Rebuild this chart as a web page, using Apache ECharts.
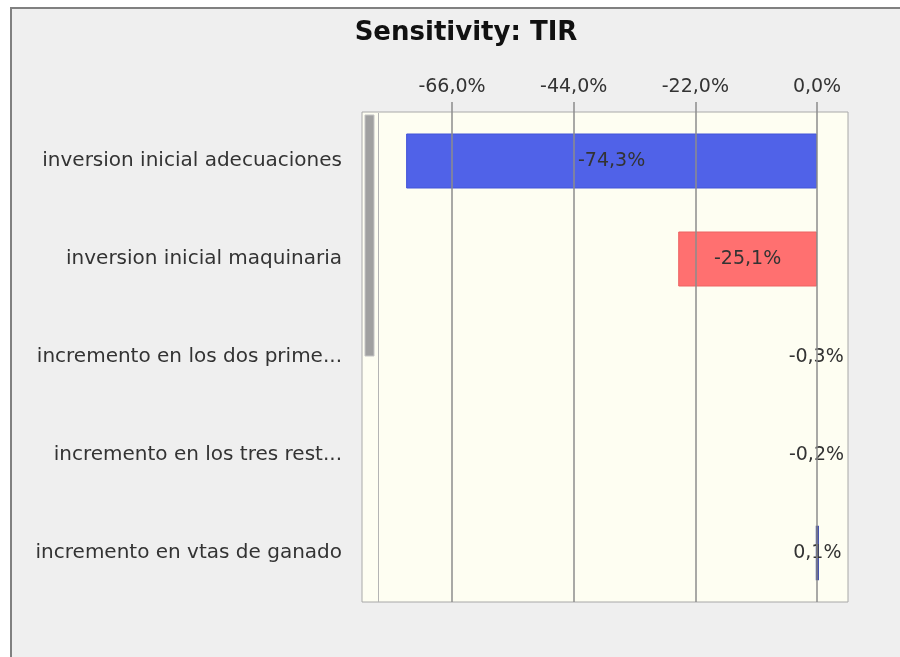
<!DOCTYPE html>
<html>
<head>
<meta charset="utf-8">
<script src="https://cdn.jsdelivr.net/npm/echarts@6/dist/echarts.min.js"></script>
<style>
  html, body { margin:0; padding:0; background:#ffffff; width:900px; height:657px; overflow:hidden; }
  #frame { position:absolute; left:10px; top:7px; width:900px; height:660px; background:#efefef;
           border-left:2px solid #808080; border-top:2px solid #808080; box-sizing:border-box; }
  #chart { position:absolute; left:0; top:0; width:900px; height:657px; }
</style>
</head>
<body>
<div id="frame"></div>
<div id="chart"></div>
<script>
const titleText = 'Sensitivity: TIR';
const categories = [
  'inversion inicial adecuaciones',
  'inversion inicial maquinaria',
  'incremento en los dos prime...',
  'incremento en los tres rest...',
  'incremento en vtas de ganado'
];
const values = [-74.3, -25.1, -0.3, -0.2, 0.1];
const tickValues = [-66, -44, -22, 0];
const itemColors = ['#5062E8', '#FF7070', 'rgba(0,0,0,0)', 'rgba(0,0,0,0)', '#1A2A9C'];
const itemBorders = ['#4354d8', '#ec6262', 'rgba(0,0,0,0)', 'rgba(0,0,0,0)', '#1A2A9C'];
const itemBorderWidths = [1, 1, 0, 0, 3];

const fmt = v => v.toFixed(1).replace('.', ',') + '%';
const FONT = 'DejaVu Sans';

const chart = echarts.init(document.getElementById('chart'), null, { renderer: 'canvas' });
chart.setOption({
  backgroundColor: 'transparent',
  animation: false,
  title: {
    text: titleText,
    left: 461, top: 15, textAlign: 'center',
    textStyle: { fontFamily: FONT, fontSize: 26, fontWeight: 'bold', color: '#111' }
  },
  grid: {
    left: 362, right: 52, top: 112, bottom: 55,
    show: true, backgroundColor: '#fefef2', borderColor: '#a8a8a8', borderWidth: 1
  },
  xAxis: {
    type: 'value', position: 'top',
    min: -82.28, max: 5.6,
    axisLine: { show: false },
    splitLine: { show: false },
    axisTick: { show: true, customValues: tickValues, length: 10, lineStyle: { color: '#8c8c8c', width: 1.5 } },
    axisLabel: { customValues: tickValues, formatter: fmt, fontFamily: FONT, fontSize: 19, color: '#333', margin: 15 }
  },
  yAxis: {
    type: 'category', data: categories, inverse: true,
    axisLine: { show: false }, axisTick: { show: false },
    axisLabel: { fontFamily: FONT, fontSize: 20, color: '#333', margin: 20 }
  },
  graphic: [
    { type: 'rect', silent: true, z: 10, shape: { x: 378, y: 113, width: 1, height: 489 }, style: { fill: '#b4b4b4' } },
    { type: 'rect', silent: true, z: 10, shape: { x: 365, y: 115, width: 9, height: 241 }, style: { fill: '#a0a0a0', stroke: '#c4c4c4', lineWidth: 1 } }
  ],
  series: [{
    type: 'bar',
    data: values.map((v, i) => ({
      value: v,
      itemStyle: { color: itemColors[i], borderColor: itemBorders[i], borderWidth: itemBorderWidths[i] }
    })),
    barWidth: 55,
    label: {
      show: true, position: 'inside',
      formatter: p => fmt(p.value),
      fontFamily: FONT, fontSize: 19, color: '#333'
    },
    markLine: {
      silent: true, symbol: 'none', animation: false,
      label: { show: false },
      lineStyle: { color: '#8c8c8c', width: 1.5, type: 'solid' },
      data: tickValues.map(v => ({ xAxis: v }))
    }
  }]
});
</script>
</body>
</html>
